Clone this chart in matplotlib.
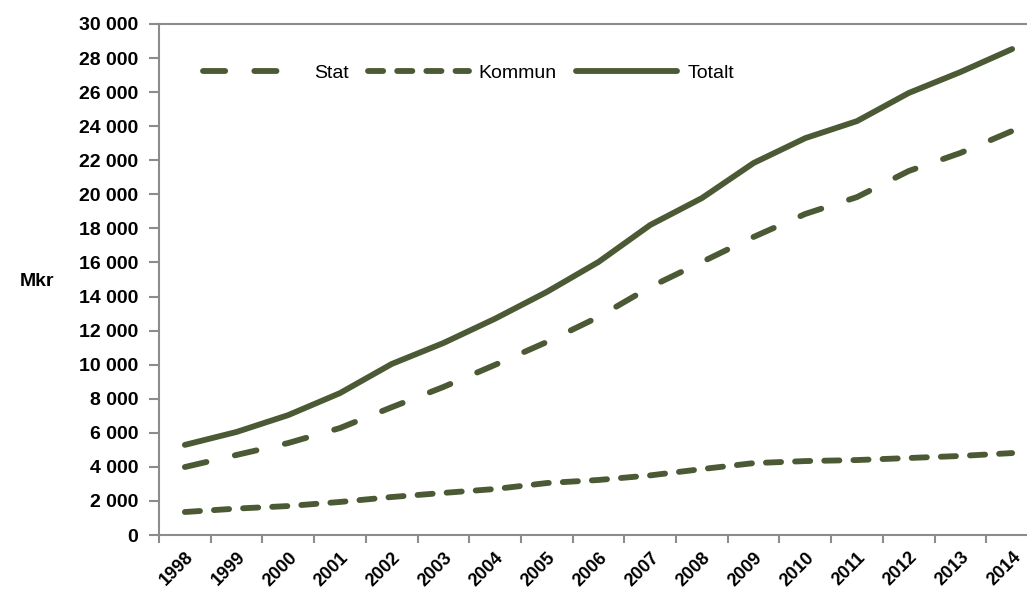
import matplotlib.pyplot as plt
import matplotlib.ticker as ticker

# Data (Mkr)
years = ["1998", "1999", "2000", "2001", "2002", "2003", "2004", "2005", "2006",
         "2007", "2008", "2009", "2010", "2011", "2012", "2013", "2014"]
stat = [3990, 4700, 5400, 6280, 7500, 8690, 9990, 11330, 12800,
        14560, 16030, 17500, 18850, 19840, 21370, 22430, 23720]
kommun = [1350, 1550, 1700, 1940, 2230, 2470, 2700, 3050, 3230,
          3500, 3870, 4220, 4340, 4400, 4520, 4640, 4810]
totalt = [5290, 6050, 7040, 8330, 10040, 11270, 12700, 14270, 16030,
          18200, 19780, 21840, 23300, 24300, 25950, 27180, 28530]

plt.rcParams['font.family'] = ['Liberation Sans', 'DejaVu Sans']

LINE = '#4b5934'
AXC = '#8c8c8c'
FS = 14

fig = plt.figure(figsize=(10.27, 6.0), dpi=100)
# axes runs slightly past the right edge of the picture like the original
ax = fig.add_axes([159 / 1027, 65 / 600, 879 / 1027, 511 / 600])

x = range(len(years))
ax.plot(x, stat, color=LINE, lw=4.2, dashes=(3.8, 5.0), dash_capstyle='round', label='Stat')
ax.plot(x, kommun, color=LINE, lw=4.2, dashes=(2.6, 2.4), dash_capstyle='round', label='Kommun')
ax.plot(x, totalt, color=LINE, lw=4.2, solid_capstyle='round', label='Totalt')

ax.set_xlim(-0.5, len(years) - 0.5)
ax.set_ylim(0, 30000)
ax.set_yticks(range(0, 30001, 2000))
ax.yaxis.set_major_formatter(ticker.FuncFormatter(lambda v, p: f"{int(v):,}".replace(",", " ")))

# ticks between categories, labels on categories
ax.set_xticks([i - 0.5 for i in range(len(years) + 1)])
ax.set_xticklabels([])
ax.set_xticks(list(x), minor=True)
ax.set_xticklabels(years, minor=True, rotation=45, ha='right', rotation_mode='anchor',
                   fontsize=13, fontweight='bold')
ax.tick_params(axis='x', which='major', direction='out', length=6, color=AXC, width=1.5)
ax.tick_params(axis='x', which='minor', length=0, pad=10)
ax.tick_params(axis='y', direction='out', length=7, color=AXC, width=1.5, pad=8,
               labelsize=FS)
for lab in ax.get_yticklabels():
    lab.set_fontweight('bold')

for s in ['left', 'bottom', 'top']:
    ax.spines[s].set_color(AXC)
    ax.spines[s].set_linewidth(1.5)
ax.spines['right'].set_visible(False)

fig.text(20 / 1027, 1 - 282 / 600, 'Mkr', fontsize=FS, fontweight='bold', va='center')

ax.legend(loc='upper left', bbox_to_anchor=(0.03, 0.955), ncol=3, frameon=False,
          handlelength=5.2, handletextpad=0.5, columnspacing=1.0, fontsize=FS)

fig.savefig('out.png', dpi=100)
